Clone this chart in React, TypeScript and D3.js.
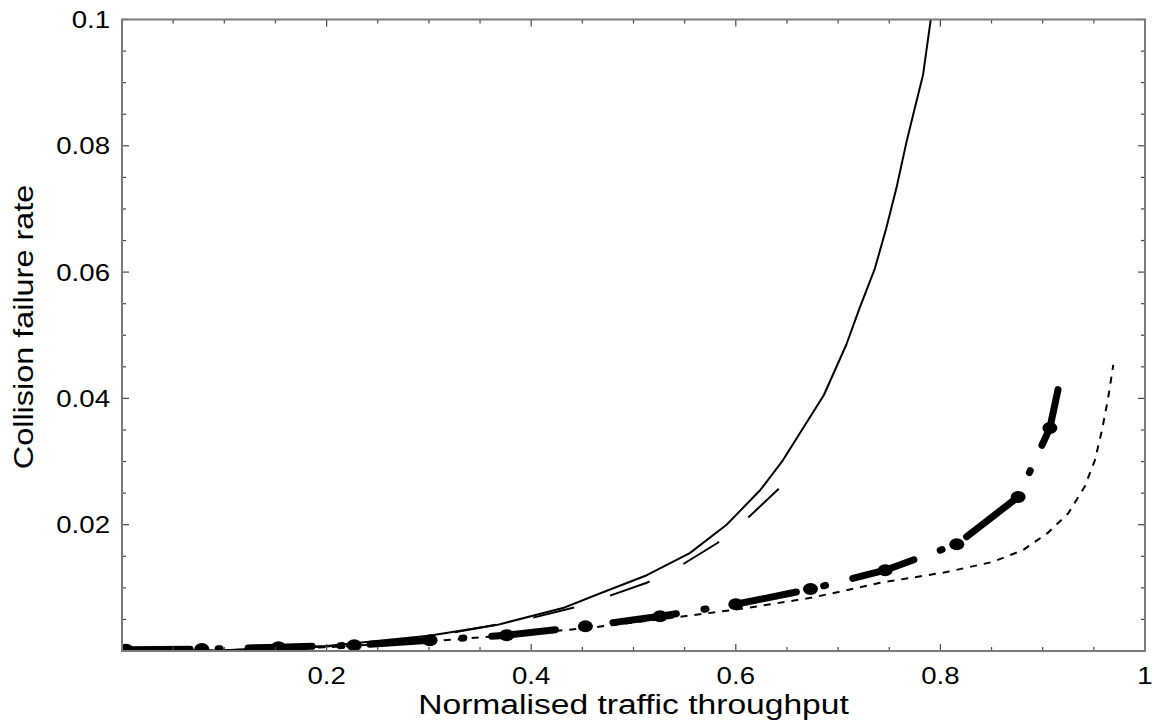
import React from 'react'
import * as d3 from 'd3'

// solid curve
const solidX = [0, 0.1, 0.2, 0.3, 0.366, 0.431, 0.467, 0.513, 0.555, 0.591, 0.624, 0.646, 0.686, 0.708, 0.721, 0.736, 0.747, 0.757, 0.767, 0.775, 0.783, 0.791]
const solidY = [0, 0.0001, 0.0008, 0.0024, 0.0041, 0.0068, 0.0091, 0.012, 0.0155, 0.02, 0.0255, 0.0302, 0.0405, 0.0485, 0.0543, 0.0606, 0.0669, 0.0733, 0.0807, 0.086, 0.0912, 0.1005]

// long dashed curve
const longDashX = [0, 0.1, 0.2, 0.3, 0.4, 0.45, 0.474, 0.513, 0.547, 0.582, 0.612, 0.642]
const longDashY = [0, 0.0001, 0.0007, 0.0022, 0.0052, 0.0072, 0.0086, 0.0108, 0.0136, 0.0171, 0.0211, 0.0257]

// short dashed curve
const shortDashX = [0, 0.1, 0.2, 0.3, 0.4, 0.464, 0.545, 0.611, 0.676, 0.741, 0.806, 0.851, 0.881, 0.905, 0.925, 0.941, 0.951, 0.958, 0.964, 0.969]
const shortDashY = [0, 0.0001, 0.0006, 0.0015, 0.0028, 0.0038, 0.0054, 0.0068, 0.0085, 0.0108, 0.0125, 0.0141, 0.016, 0.0187, 0.0218, 0.026, 0.0302, 0.035, 0.0401, 0.0453]

// thick dash-dot curve, markers on every point but the last
const dashDotX = [0.004, 0.078, 0.153, 0.227, 0.301, 0.376, 0.453, 0.526, 0.6, 0.673, 0.746, 0.816, 0.876, 0.907, 0.915]
const dashDotY = [0.0002, 0.0003, 0.0006, 0.0009, 0.0017, 0.0025, 0.0039, 0.0055, 0.0074, 0.0098, 0.0128, 0.0169, 0.0244, 0.0353, 0.0414]

const xTickLabels = ['0.2', '0.4', '0.6', '0.8', '1']
const yTickLabels = ['0.02', '0.04', '0.06', '0.08', '0.1']

const W = 1152
const H = 722
const left = 122
const right = 1145
const top = 19.5
const bottom = 651
const font = '"Liberation Sans", Arial, Helvetica, sans-serif'

const x = d3.scaleLinear().domain([0, 1]).range([left, right])
const y = d3.scaleLinear().domain([0, 0.1]).range([bottom, top])

const pts = (xs: number[], ys: number[]) => xs.map((v, i) => [v, ys[i]] as [number, number])
const line = d3.line<[number, number]>().x(d => x(d[0])).y(d => y(d[1]))

const App = () => {
  const xMinor = d3.range(0, 1.0001, 0.05)
  const yMinor = d3.range(0, 0.10001, 0.005)
  const isMajorX = (v: number) => Math.abs(v / 0.2 - Math.round(v / 0.2)) < 1e-6
  const isMajorY = (v: number) => Math.abs(v / 0.02 - Math.round(v / 0.02)) < 1e-6
  const dd = pts(dashDotX, dashDotY)

  return (
    <svg width={W} height={H} style={{ position: 'absolute', left: 0, top: 0, background: '#fff' }}>
      <defs>
        <clipPath id="plot">
          <rect x={left} y={top} width={right - left} height={bottom - top} />
        </clipPath>
      </defs>
      <rect width={W} height={H} fill="#fff" />

      <g clipPath="url(#plot)" fill="none" stroke="#000" strokeLinejoin="round">
        <path d={line(pts(solidX, solidY)) || ''} strokeWidth={2} />
        {/* drawn from its end so the dash pattern finishes on a dash */}
        <path d={line(pts(longDashX, longDashY).reverse()) || ''} strokeWidth={2} strokeDasharray="42 38" />
        <path d={line(pts(shortDashX, shortDashY)) || ''} strokeWidth={2} strokeDasharray="7 7" />
        <path d={line(dd) || ''} strokeWidth={7} strokeDasharray="64 28 2 28" strokeLinecap="round" />
        {dd.slice(0, -1).map((d, i) => (
          <ellipse key={i} cx={x(d[0])} cy={y(d[1])} rx={7.5} ry={6} fill="#000" stroke="none" />
        ))}
      </g>

      {/* ticks on all four sides */}
      <g stroke="#444" strokeWidth={1.2}>
        {xMinor.map((v, i) => {
          const len = isMajorX(v) ? 7 : 4
          return (
            <g key={i}>
              <line x1={x(v)} x2={x(v)} y1={bottom} y2={bottom - len} />
              <line x1={x(v)} x2={x(v)} y1={top} y2={top + len} />
            </g>
          )
        })}
        {yMinor.map((v, i) => {
          const len = isMajorY(v) ? 7 : 4
          return (
            <g key={i}>
              <line x1={left} x2={left + len} y1={y(v)} y2={y(v)} />
              <line x1={right} x2={right - len} y1={y(v)} y2={y(v)} />
            </g>
          )
        })}
      </g>
      <rect x={left} y={top} width={right - left} height={bottom - top} fill="none" stroke="#7a7a7a" strokeWidth={2} />

      <g fontFamily={font} fill="#000">
        {xTickLabels.map(t => (
          <text key={t} fontSize={24} transform={`translate(${x(+t)},684) scale(1.15,1)`} textAnchor="middle">{t}</text>
        ))}
        {yTickLabels.map(t => (
          <text key={t} fontSize={24} transform={`translate(110,${y(+t) + 8.5}) scale(1.15,1)`} textAnchor="end">{t}</text>
        ))}
        <text fontSize={28} transform={`translate(${(left + right) / 2},714) scale(1.2,1)`} textAnchor="middle">Normalised traffic throughput</text>
        <text fontSize={27} transform="translate(33,327) rotate(-90) scale(1.2,1)" textAnchor="middle">Collision failure rate</text>
      </g>
    </svg>
  )
}

export default App
